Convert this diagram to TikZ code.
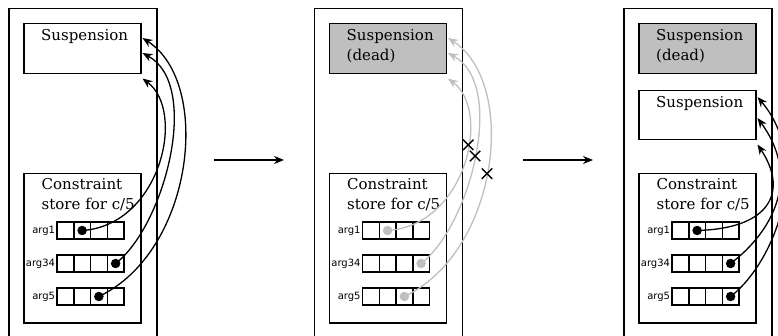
\documentclass[tikz,border=0pt]{standalone}
\usepackage{fontspec}
\setmainfont{DejaVu Serif}
\setsansfont{DejaVu Sans}
\usepackage{tikz}
\usetikzlibrary{arrows.meta,shapes.misc}

\tikzset{
    panel/.style={draw, line width=1.5pt, minimum width=148pt, minimum height=340pt, anchor=north west, inner sep=0pt},
    box/.style={draw, line width=1.5pt, minimum width=117pt, anchor=north west, inner sep=0pt},
    deadbox/.style={box, fill=gray!50},
    cell/.style={draw, line width=1.5pt, minimum width=16.75pt, minimum height=17pt, inner sep=0pt},
    argname/.style={anchor=east, inner sep=1pt, font=\sffamily\fontsize{10}{12}\selectfont},
    txt/.style={anchor=base west, align=left, inner sep=0pt, font=\fontsize{15}{20}\selectfont},
    dot/.style={circle, fill, minimum size=9.5pt, inner sep=0pt},
    ptr/.style={-{Stealth[length=10pt, width=8pt]}, line width=1.3pt},
    xmark/.style={cross out, draw=black, line width=1.4pt, minimum size=9pt, inner sep=0pt},
}

\begin{document}
\begin{tikzpicture}[x=1pt, y=-1pt]
    \useasboundingbox (0,0) rectangle (778,336);
    \clip (0,0) rectangle (778,336);

    % the three snapshots
    \foreach \p/\ox in {1/0, 2/305.5, 3/615}{
        \node[panel] (p\p) at (\ox+8,8) {};
        \node[box, minimum height=149pt] (cs\p) at (\ox+23,173) {};
        % base of a two-line node is its last line
        \node[txt] (cst\p) at ([shift={(18.5,37)}]cs\p.north west) {Constraint\\store for c/5};
        \foreach \r/\ry/\lab in {1/230.5/arg1, 2/263.5/arg34, 3/296.5/arg5}{
            \foreach \c in {1,...,4}
                \node[cell] (c\p-\r-\c) at (\ox+48.625+16.75*\c, \ry) {};
            \node[argname] (l\p-\r) at (c\p-\r-1.west) {\lab};
        }
    }

    % before
    \node[box, minimum height=50pt] (s1) at (23,23) {};
    \node[txt] (st1) at ([shift={(18,17.5)}]s1.north west) {Suspension};
    \node[dot] (d1-1) at (c1-1-2) {};
    \node[dot] (d1-2) at (c1-2-4) {};
    \node[dot] (d1-3) at (c1-3-3) {};
    \draw[ptr] (d1-1.center) .. controls +(78,-5) and +(44,33) .. ([shift={(1,4)}]s1.south east);
    \draw[ptr] (d1-2.center) .. controls +(49,-38) and +(59,32) .. ([shift={(1,30)}]s1.north east);
    \draw[ptr] (d1-3.center) .. controls +(95,-45) and +(70,45) .. ([shift={(1,15)}]s1.north east);

    % suspension dies, pointers are dropped
    \node[deadbox, minimum height=50pt] (s2) at (328.5,23) {};
    \node[txt] (st2) at ([shift={(18,37.5)}]s2.north west) {Suspension\\(dead)};
    \node[dot, gray!50] (d2-1) at (c2-1-2) {};
    \node[dot, gray!50] (d2-2) at (c2-2-4) {};
    \node[dot, gray!50] (d2-3) at (c2-3-3) {};
    \draw[ptr, gray!50] (d2-1.center) .. controls +(78,-5) and +(44,33) .. ([shift={(1,4)}]s2.south east)
        node[xmark, pos=0.6] (x1) {};
    \draw[ptr, gray!50] (d2-2.center) .. controls +(49,-38) and +(59,32) .. ([shift={(1,30)}]s2.north east)
        node[xmark, pos=0.5] (x2) {};
    \draw[ptr, gray!50] (d2-3.center) .. controls +(95,-45) and +(70,45) .. ([shift={(1,15)}]s2.north east)
        node[xmark, pos=0.48] (x3) {};

    % new suspension
    \node[deadbox, minimum height=50pt] (s3) at (638,23) {};
    \node[txt] (st3) at ([shift={(18,37.5)}]s3.north west) {Suspension\\(dead)};
    \node[box, minimum height=49pt] (s3b) at (638,90) {};
    \node[txt] (st3b) at ([shift={(18,17.5)}]s3b.north west) {Suspension};
    \node[dot] (d3-1) at (c3-1-2) {};
    \node[dot] (d3-2) at (c3-2-4) {};
    \node[dot] (d3-3) at (c3-3-4) {};
    \draw[ptr] (d3-1.center) .. controls +(76,-2) and +(30,45) .. ([shift={(1,4)}]s3b.south east);
    \draw[ptr] (d3-2.center) .. controls +(42,-32) and +(44,60) .. ([shift={(1,28)}]s3b.north east);
    \draw[ptr] (d3-3.center) .. controls +(45,-35) and +(55,65) .. ([shift={(1,7)}]s3b.north east);

    % steps
    \coordinate (g1) at (214,160);
    \coordinate (g2) at (284,160);
    \coordinate (g3) at (523,160);
    \coordinate (g4) at (593,160);
    \draw[ptr, line width=1.4pt] (g1) -- (g2);
    \draw[ptr, line width=1.4pt] (g3) -- (g4);
\end{tikzpicture}
\end{document}
